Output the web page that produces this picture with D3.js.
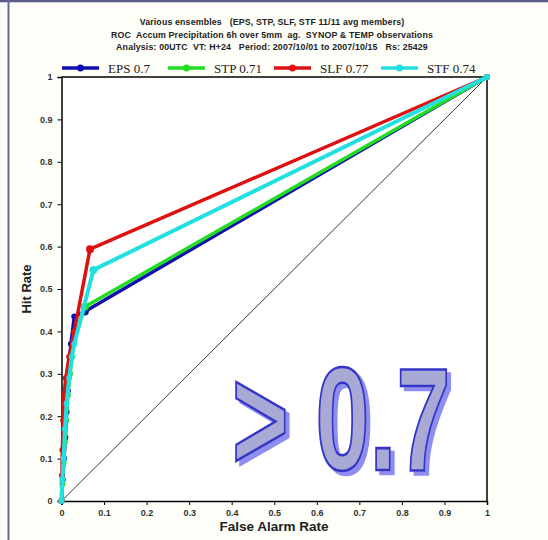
<!DOCTYPE html>
<html>
<head>
<meta charset="utf-8">
<script src="https://cdn.jsdelivr.net/npm/d3@7"></script>
<style>
  html, body { margin: 0; padding: 0; background: #fefef8; }
  svg { display: block; }
</style>
</head>
<body>
<svg id="chart"></svg>
<script>
// ROC points per ensemble [false alarm rate, hit rate]
const seriesNames = ['EPS 0.7', 'STP 0.71', 'SLF 0.77', 'STF 0.74'];
const seriesColors = ['#1010b0', '#22dd22', '#dd1111', '#22e0e0'];
const epsPoints = [[0,0],[0.003,0.05],[0.006,0.1],[0.009,0.15],[0.012,0.21],[0.015,0.26],[0.018,0.32],[0.022,0.37],[0.03,0.435],[0.055,0.447],[1,1]];
const stpPoints = [[0,0],[0.002,0.04],[0.005,0.09],[0.008,0.14],[0.011,0.19],[0.015,0.25],[0.02,0.3],[0.025,0.34],[0.03,0.38],[0.055,0.458],[1,1]];
const slfPoints = [[0,0],[0.001,0.06],[0.002,0.12],[0.004,0.19],[0.006,0.25],[0.01,0.29],[0.018,0.34],[0.03,0.4],[0.067,0.594],[1,1]];
const stfPoints = [[0,0],[0.002,0.05],[0.005,0.1],[0.008,0.17],[0.012,0.23],[0.018,0.29],[0.024,0.34],[0.03,0.37],[0.075,0.545],[1,1]];
const tickValues = [0,0.1,0.2,0.3,0.4,0.5,0.6,0.7,0.8,0.9,1];
const titleLines = [
  'Various ensembles   (EPS, STP, SLF, STF 11/11 avg members)',
  'ROC  Accum Precipitation 6h over 5mm  ag.  SYNOP & TEMP observations',
  'Analysis: 00UTC  VT: H+24   Period: 2007/10/01 to 2007/10/15   Rs: 25429'
];

const allSeries = [epsPoints, stpPoints, slfPoints, stfPoints];
const [width, height] = [548, 540];

const svg = d3.select('#chart').attr('width', width).attr('height', height);

// drop shadow for the big label
const defs = svg.append('defs');
const shadow = defs.append('filter').attr('id', 'bigShadow')
  .attr('x', '-10%').attr('y', '-10%').attr('width', '130%').attr('height', '130%');
shadow.append('feOffset').attr('in', 'SourceAlpha').attr('dx', 6).attr('dy', 4).attr('result', 'off');
shadow.append('feFlood').attr('flood-color', '#8e8ef0').attr('result', 'col');
shadow.append('feComposite').attr('in', 'col').attr('in2', 'off').attr('operator', 'in').attr('result', 'sh');
const merge = shadow.append('feMerge');
merge.append('feMergeNode').attr('in', 'sh');
merge.append('feMergeNode').attr('in', 'SourceGraphic');

// page frame
svg.append('rect').attr('width', width).attr('height', height).attr('fill', '#fefef8');
svg.append('line').attr('x1', 0).attr('x2', width).attr('y1', 1).attr('y2', 1)
  .attr('stroke', '#5a5a88').attr('stroke-width', 2.5);
svg.append('line').attr('x1', 8.5).attr('x2', 8.5).attr('y1', 0).attr('y2', height)
  .attr('stroke', '#6a6a98').attr('stroke-width', 2);

const x = d3.scaleLinear().domain([0, 1]).range([61.5, 487]);
const y = d3.scaleLinear().domain([0, 1]).range([501, 77]);

svg.append('rect')
  .attr('x', x(0)).attr('y', y(1))
  .attr('width', x(1) - x(0)).attr('height', y(0) - y(1))
  .attr('fill', '#fff');

// titles
svg.selectAll('text.title')
  .data(titleLines)
  .enter()
  .append('text')
  .attr('class', 'title')
  .attr('x', 272)
  .attr('y', (d, i) => 25 + i * 12.5)
  .attr('text-anchor', 'middle')
  .style('font-family', 'Arial, "Liberation Sans", sans-serif')
  .style('font-weight', 'bold')
  .style('font-size', '8.8px')
  .style('letter-spacing', '0.15px')
  .style('fill', '#222')
  .style('white-space', 'pre')
  .text(d => d);

// big annotation
svg.append('text')
  .attr('transform', 'translate(232,470) scale(0.66,1)')
  .style('font-family', 'Arial, "Liberation Sans", sans-serif')
  .style('font-weight', 'bold').style('font-size', '147px')
  .style('fill', '#a9a9d6').style('stroke', '#3434c8').style('stroke-width', 2.6)
  .attr('filter', 'url(#bigShadow)')
  .text('> 0.7');

// diagonal
svg.append('line')
  .attr('x1', x(0)).attr('y1', y(0)).attr('x2', x(1)).attr('y2', y(1))
  .attr('stroke', '#000').attr('stroke-width', 0.8);

// axes
const axisFont = g => g.selectAll('text')
  .style('font-family', 'Arial, "Liberation Sans", sans-serif')
  .style('font-weight', 'bold').style('font-size', '9px').style('fill', '#333');

svg.append('g')
  .attr('transform', `translate(0,${y(0)})`)
  .call(d3.axisBottom(x).tickValues(tickValues).tickFormat(d3.format('')).tickSize(4).tickPadding(5))
  .call(g => g.select('.domain').attr('stroke-width', 1.5))
  .call(axisFont);

svg.append('g')
  .attr('transform', `translate(${x(0)},0)`)
  .call(d3.axisLeft(y).tickValues(tickValues).tickFormat(d3.format('')).tickSize(4).tickPadding(5))
  .call(g => g.select('.domain').attr('stroke-width', 1.5))
  .call(axisFont);

// top and right frame lines
svg.append('line').attr('x1', x(0)).attr('x2', x(1)).attr('y1', y(1)).attr('y2', y(1))
  .attr('stroke', '#000').attr('stroke-width', 1.5);
svg.append('line').attr('x1', x(1)).attr('x2', x(1)).attr('y1', y(1)).attr('y2', y(0))
  .attr('stroke', '#000').attr('stroke-width', 1.5);

svg.append('text')
  .attr('x', 274).attr('y', 531)
  .attr('text-anchor', 'middle')
  .style('font-family', 'Arial, "Liberation Sans", sans-serif')
  .style('font-weight', 'bold').style('font-size', '13.5px').style('fill', '#222')
  .text('False Alarm Rate');

svg.append('text')
  .attr('transform', 'translate(31,289) rotate(-90)')
  .attr('text-anchor', 'middle')
  .style('font-family', 'Arial, "Liberation Sans", sans-serif')
  .style('font-weight', 'bold').style('font-size', '13px').style('fill', '#222')
  .text('Hit Rate');

// ROC curves
const line = d3.line().x(d => x(d[0])).y(d => y(d[1]));

const curves = svg.selectAll('g.curve')
  .data(allSeries)
  .enter()
  .append('g')
  .attr('class', 'curve');

curves.append('path')
  .attr('d', line)
  .attr('fill', 'none')
  .attr('stroke', (d, i) => seriesColors[i])
  .attr('stroke-width', (d, i) => i === 3 ? 4 : 3.5)
  .attr('stroke-linejoin', 'round');

curves.selectAll('circle')
  .data((d, i) => d.map((p, j) => ({ p, i, j, n: d.length })))
  .enter()
  .append('circle')
  .attr('cx', d => x(d.p[0]))
  .attr('cy', d => y(d.p[1]))
  .attr('r', d => d.j === d.n - 2 ? 4 : 3)
  .attr('fill', d => seriesColors[d.i]);

// legend
const legendX = [62, 168, 274, 381];
const legend = svg.selectAll('g.legend')
  .data(seriesNames)
  .enter()
  .append('g')
  .attr('class', 'legend')
  .attr('transform', (d, i) => `translate(${legendX[i]},68)`);

legend.append('line')
  .attr('x1', 0).attr('x2', 37).attr('y1', 0).attr('y2', 0)
  .attr('stroke', (d, i) => seriesColors[i]).attr('stroke-width', 3.5);
legend.append('circle')
  .attr('cx', 18.5).attr('cy', 0).attr('r', 3.5)
  .attr('fill', (d, i) => seriesColors[i]);
legend.append('text')
  .attr('x', 46).attr('y', 5)
  .style('font-family', '"Liberation Serif", "Times New Roman", serif')
  .style('font-size', '13px').style('fill', '#222')
  .text(d => d);
</script>
</body>
</html>
